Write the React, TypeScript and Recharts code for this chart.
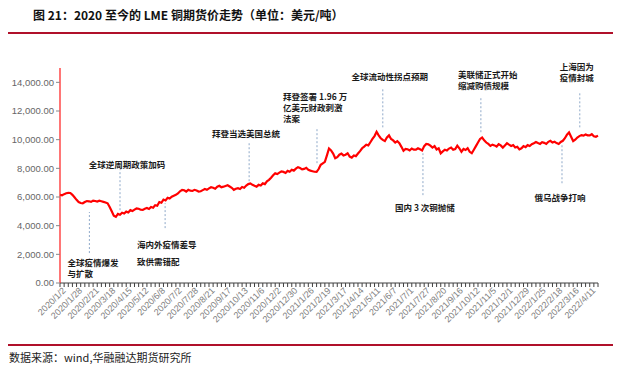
import { Line, LineChart, ReferenceLine, XAxis, YAxis } from "recharts";

const dateLabels = [
  "2020/1/2", "2020/1/28", "2020/2/21", "2020/3/18", "2020/4/15", "2020/5/12",
  "2020/6/8", "2020/7/2", "2020/7/28", "2020/8/21", "2020/9/17", "2020/10/13",
  "2020/11/6", "2020/12/2", "2020/12/30", "2021/1/26", "2021/2/19", "2021/3/17",
  "2021/4/14", "2021/5/11", "2021/6/7", "2021/7/1", "2021/7/27", "2021/8/20",
  "2021/9/16", "2021/10/12", "2021/11/5", "2021/12/1", "2021/12/29", "2022/1/25",
  "2022/2/18", "2022/3/16", "2022/4/11",
];

// LME 铜价，每两个交易日左右一个点，每 8 个点一个日期标签
const copperPrice = [
  6150, 6120, 6200, 6260, 6290, 6280, 6150, 5980, 5800, 5650, 5580, 5560, 5650, 5720, 5700, 5660, 5750, 5720, 5680, 5740,
  5700, 5660, 5620, 5560, 5300, 5000, 4700, 4620, 4820, 4760, 4900, 4850, 4980, 4920, 5080, 5020, 5120, 5200, 5180, 5110,
  5100, 5180, 5230, 5160, 5300, 5250, 5430, 5390, 5650, 5600, 5820, 5760, 5950, 5890, 6020, 6090, 6150, 6250, 6400, 6500,
  6470, 6380, 6500, 6440, 6420, 6500, 6450, 6380, 6400, 6480, 6560, 6500, 6600, 6680, 6650, 6580, 6720, 6780, 6680, 6720,
  6770, 6820, 6730, 6640, 6500, 6580, 6620, 6560, 6700, 6650, 6800, 6900, 6950, 6850, 6780, 6720, 6850, 6800, 6950, 6900,
  7100, 7200, 7350, 7520, 7650, 7600, 7700, 7780, 7750, 7680, 7820, 7760, 7900, 7840, 7980, 8080, 8020, 7930, 7960, 8040,
  7900, 7840, 7800, 7760, 7750, 7950, 8250, 8350, 8450, 8900, 9380, 9250, 9030, 8700, 8780, 8950, 9030, 8900, 8950, 9050,
  8820, 8750, 8900, 8850, 9030, 9200, 9400, 9520, 9650, 9600, 9820, 10050, 10250, 10550, 10300, 10100, 9980, 9900, 10150, 10300,
  10050, 9950, 9800, 9900, 9750, 9500, 9220, 9350, 9330, 9250, 9380, 9300, 9300, 9400, 9330, 9250, 9550, 9700, 9680, 9580,
  9450, 9550, 9320, 9400, 9050, 9180, 9300, 9250, 9380, 9450, 9300, 9350, 9580, 9400, 9150, 9350, 9280, 9400, 9150, 9050,
  9300, 9550, 9800, 10050, 10150, 9950, 9800, 9700, 9560, 9650, 9600, 9520, 9680, 9600, 9450, 9600, 9750, 9650, 9560, 9620,
  9450, 9500, 9320, 9400, 9550, 9480, 9620, 9560, 9680, 9750, 9830, 9760, 9700, 9820, 9780, 9700, 9850, 9920, 9800, 9850,
  9760, 9700, 9840, 9920, 10100, 10350, 10500, 10200, 9900, 10000, 10150, 10250, 10320, 10280, 10360, 10300, 10300, 10380, 10240, 10200,
  10280,
];

const yTicks = [0, 2000, 4000, 6000, 8000, 10000, 12000, 14000];

type Note = {
  x: number;
  from: number;
  to: number;
  lines: string[];
  side: "above" | "below";
  anchor: "start" | "middle";
  dx: number;
  dy: number;
  gap: number;
};

// x 以数据点序号计
const notes: Note[] = [
  { x: 14.2, from: 2090, to: 4950, lines: ["全球疫情爆发", "与扩散"], side: "below", anchor: "start", dx: -22, dy: 9, gap: 11 },
  { x: 29, from: 5080, to: 7900, lines: ["全球逆周期政策加码"], side: "above", anchor: "middle", dx: 7, dy: -6, gap: 11 },
  { x: 50.8, from: 3830, to: 5570, lines: ["海内外疫情差导", "致供需错配"], side: "below", anchor: "start", dx: -28, dy: 16, gap: 17 },
  { x: 91.4, from: 7100, to: 9750, lines: ["拜登当选美国总统"], side: "above", anchor: "middle", dx: -3, dy: -10, gap: 11 },
  { x: 124.2, from: 8360, to: 10860, lines: ["拜登签署 1.96 万", "亿美元财政刺激", "法案"], side: "above", anchor: "start", dx: -34, dy: -31, gap: 11 },
  { x: 156, from: 10860, to: 13650, lines: ["全球流动性拐点预期"], side: "above", anchor: "middle", dx: 7, dy: -11, gap: 11 },
  { x: 175.4, from: 6130, to: 9050, lines: ["国内 3 次铜抛储"], side: "below", anchor: "middle", dx: 2, dy: 12, gap: 11 },
  { x: 203.4, from: 10520, to: 12950, lines: ["美联储正式开始", "缩减购债规模"], side: "above", anchor: "start", dx: -23, dy: -23, gap: 10.5 },
  { x: 242.6, from: 6960, to: 9610, lines: ["俄乌战争打响"], side: "below", anchor: "middle", dx: -2, dy: 14, gap: 11 },
  { x: 251.2, from: 10860, to: 13300, lines: ["上海因为", "疫情封城"], side: "above", anchor: "start", dx: -20, dy: -26, gap: 11 },
];

const data = copperPrice.map((v, i) => ({ i, v }));
const xTicks = data.filter((d) => d.i % 2 === 0).map((d) => d.i);

const CJK = '"Noto Sans CJK SC", "Noto Sans", sans-serif';

function DateTick(props: any) {
  const { x, y, payload } = props;
  const i = payload.value as number;
  if (i % 8 !== 0) return null;
  return (
    <text
      x={x}
      y={y}
      dx={3}
      dy={6}
      transform={`rotate(-45 ${x} ${y})`}
      textAnchor="end"
      fontSize={9}
      fill="#808080"
      fontFamily='"Liberation Sans", sans-serif'
    >
      {dateLabels[i / 8]}
    </text>
  );
}

function noteLabel(note: Note) {
  return (props: any) => {
    const vb = props.viewBox ?? {};
    const baseY = note.side === "above" ? vb.y : vb.y + vb.height;
    return (
      <g>
        {note.lines.map((t, k) => (
          <text
            key={k}
            x={vb.x + note.dx}
            y={baseY + note.dy + k * note.gap}
            textAnchor={note.anchor}
            dominantBaseline="central"
            fontSize={8.5}
            fontWeight={700}
            fill="#1a1a1a"
            fontFamily={CJK}
          >
            {t}
          </text>
        ))}
      </g>
    );
  };
}

export default function App() {
  return (
    <div
      style={{
        position: "absolute",
        left: 0,
        top: 0,
        width: 620,
        height: 368,
        background: "#fff",
        fontFamily: CJK,
      }}
    >
      <div
        style={{
          position: "absolute",
          left: 33,
          top: 6,
          fontSize: 12,
          fontWeight: 700,
          color: "#111",
          whiteSpace: "nowrap",
        }}
      >
        图 21：2020 至今的 LME 铜期货价走势（单位：美元/吨）
      </div>
      <div style={{ position: "absolute", left: 8, top: 32, width: 605, height: 2, background: "#b0102a" }} />

      <div style={{ position: "absolute", left: 0, top: 0 }}>
        <LineChart width={620} height={340} data={data} margin={{ top: 68, right: 22, bottom: 0, left: 0 }}>
          <XAxis
            dataKey="i"
            type="number"
            domain={[0, copperPrice.length - 1]}
            ticks={xTicks}
            interval={0}
            height={57}
            tickSize={4}
            tick={<DateTick />}
            stroke="#404040"
            tickLine={{ stroke: "#404040" }}
            axisLine={{ stroke: "#404040" }}
          />
          <YAxis
            domain={[0, 15000]}
            ticks={yTicks}
            width={60}
            tickSize={4}
            axisLine={{ stroke: "#ff1a1a", strokeWidth: 1.2 }}
            tickLine={{ stroke: "#888" }}
            tick={{ fontSize: 9.5, fill: "#666", fontFamily: '"Liberation Sans", sans-serif' }}
            tickFormatter={(v: number) =>
              v.toLocaleString("en-US", { minimumFractionDigits: 2, maximumFractionDigits: 2 })
            }
          />
          {notes.map((n, k) => (
            <ReferenceLine
              key={k}
              segment={[
                { x: n.x, y: n.from },
                { x: n.x, y: n.to },
              ]}
              stroke="#8fa9c9"
              strokeDasharray="2 2"
              strokeWidth={1}
              label={noteLabel(n)}
            />
          ))}
          <Line
            dataKey="v"
            type="linear"
            stroke="#ff0000"
            strokeWidth={2.2}
            dot={false}
            isAnimationActive={false}
          />
        </LineChart>
      </div>

      <div style={{ position: "absolute", left: 8, top: 344, width: 605, height: 2, background: "#b0102a" }} />
      <div
        style={{
          position: "absolute",
          left: 9,
          top: 349,
          fontSize: 11,
          color: "#222",
          whiteSpace: "nowrap",
        }}
      >
        数据来源：wind,华融融达期货研究所
      </div>
    </div>
  );
}
